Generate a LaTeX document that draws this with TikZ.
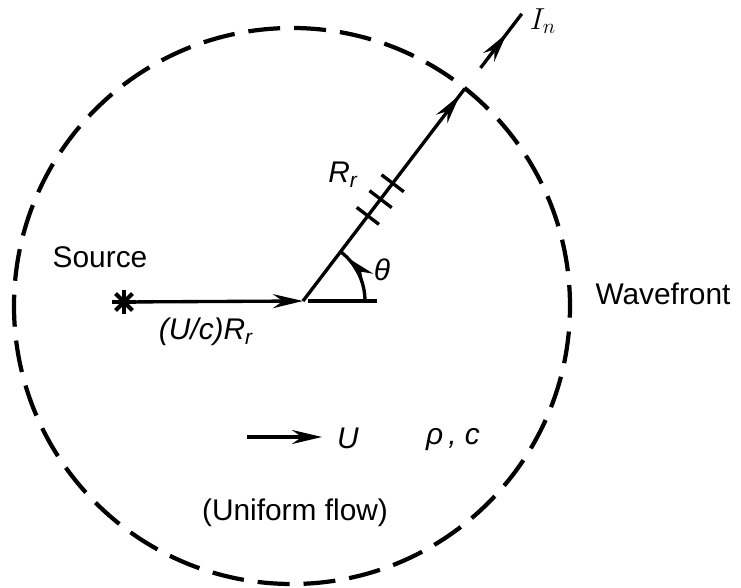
\documentclass[tikz,border=0pt]{standalone}
\usepackage{fontspec}
\setmainfont{Liberation Sans}
\usepackage{tikz}
\usetikzlibrary{arrows.meta, calc, decorations.markings}
\tikzset{
  frontline/.style={
    line width=2.4pt, dash pattern=on 18.196pt off 7.961pt,
    dash phase=6.255pt
  },
  rayline/.style={line width=1.9pt},
  raytip/.style={-{Stealth[length=6mm, width=2.8mm]}},
  midtip/.style={
    postaction={decorate},
    decoration={markings,
      mark=at position #1 with {\arrow{Stealth[length=6mm, width=2.8mm]}}}
  },
  textlabel/.style={font=\fontsize{17}{20}\selectfont, inner sep=0pt},
  mathlabel/.style={font=\fontsize{17}{20}\selectfont\itshape, inner sep=0pt},
}

\begin{document}
\begin{tikzpicture}[x=0.02cm, y=0.02cm]
  \useasboundingbox (0,0) rectangle (741,588);

  % Points
  \coordinate (wavecentre) at (292,282);
  \coordinate (star) at (124,286);
  \coordinate (centre) at (303,287);
  \coordinate (hit) at ($(centre)+(52.7:267)$);
  \coordinate (outA) at ($(centre)+(52.7:293)$);
  \coordinate (outB) at ($(centre)+(52.7:361)$);
  \coordinate (refA) at ($(centre)+(5,0)$);
  \coordinate (refB) at ($(centre)+(74,0)$);
  \coordinate (arcstart) at ($(centre)+(62,0)$);
  \coordinate (ufrom) at (247,151);
  \coordinate (uto) at (322,151);

  % Wavefront
  \draw[frontline] (wavecentre) circle[radius=278];

  % Source
  \foreach \a in {0,45,90,135}
    \draw[line width=2.4pt] (star) ++(\a:12) -- ++(\a+180:24);
  \draw[rayline, raytip] (star) -- (centre);

  % Ray to the wavefront
  \draw[rayline, midtip=0.97] (centre) -- (hit);
  \draw[rayline, midtip=0.64] (outA) -- (outB);
  \foreach \d in {107,128,148}
    \draw[rayline] ($(centre)+(52.7:\d)$) ++(142.7:14) -- ++(-37.3:28);

  % Angle
  \draw[rayline] (refA) -- (refB);
  \draw[rayline, midtip=0.85] (arcstart) arc[start angle=0, end angle=52.7, radius=62];

  % Flow
  \draw[rayline, raytip] (ufrom) -- (uto);

  % Labels
  \node[textlabel] (source) at (100,331) {Source};
  \node[mathlabel] (shift) at (206,256) {(U/c)R\textsubscript{r}};
  \node[mathlabel] (theta) at (382,318) {θ};
  \node[mathlabel] (radius) at (343,413) {R\textsubscript{r}};
  \node[textlabel] (front) at (663,294) {Wavefront};
  \node[textlabel] (intensity) at (543,567) {$I_n$};
  \node[mathlabel] (ulabel) at (348,150) {U};
  \node[mathlabel] (props) at (453,148) {ρ\,, c};
  \node[textlabel] (flow) at (295,75) {(Uniform flow)};
\end{tikzpicture}
\end{document}
